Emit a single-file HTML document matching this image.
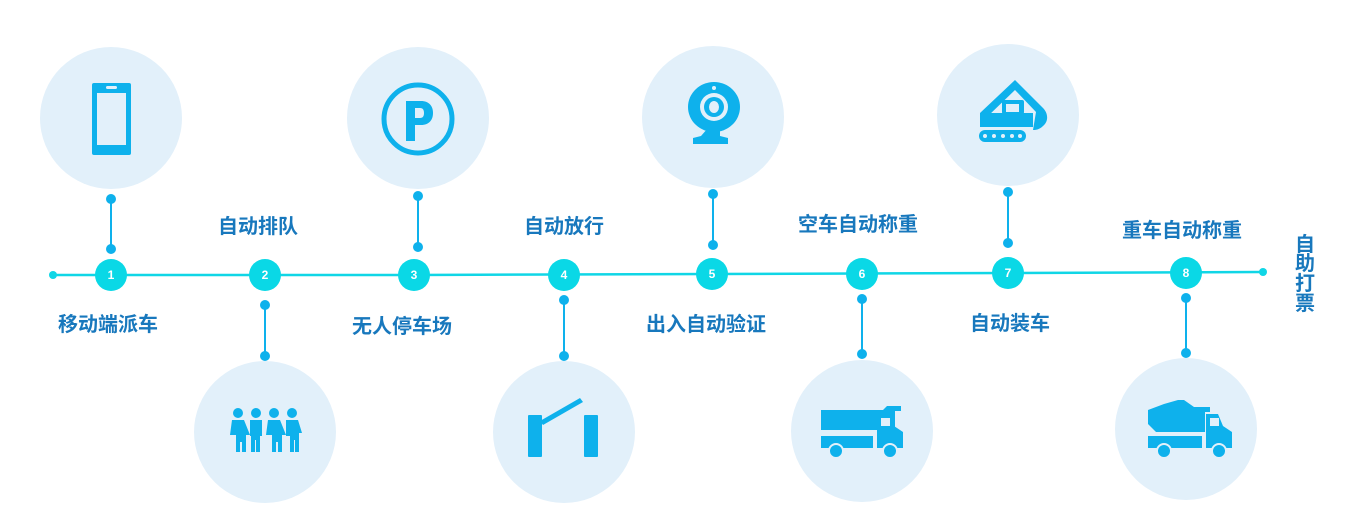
<!DOCTYPE html>
<html><head><meta charset="utf-8"><style>
html,body{margin:0;padding:0;background:#fff;width:1350px;height:530px;overflow:hidden}
svg{display:block}
text{font-family:"Liberation Sans","Noto Sans CJK SC",sans-serif;font-weight:bold}
.l{fill:#1878bd;font-size:20px;text-anchor:middle}
.n{fill:#fff;font-size:12px;text-anchor:middle}
</style></head><body>
<svg width="1350" height="530" viewBox="0 0 1350 530">
<g fill="#e2f0fa">
<circle cx="111" cy="118" r="71"/><circle cx="418" cy="118" r="71"/><circle cx="713" cy="117" r="71"/><circle cx="1008" cy="115" r="71"/>
<circle cx="265" cy="432" r="71"/><circle cx="564" cy="432" r="71"/><circle cx="862" cy="431" r="71"/><circle cx="1186" cy="429" r="71"/>
</g>
<polyline points="53,275 414,275 712,274 1008,273 1263,272" fill="none" stroke="#10d6e6" stroke-width="2.5"/>
<circle cx="53" cy="275" r="4" fill="#10d6e6"/><circle cx="1263" cy="272" r="4" fill="#10d6e6"/>
<g stroke="#0eb1ec" stroke-width="2" fill="#0eb1ec">
<line x1="111" y1="199" x2="111" y2="249"/><circle cx="111" cy="199" r="4"/><circle cx="111" cy="249" r="4"/>
<line x1="418" y1="196" x2="418" y2="247"/><circle cx="418" cy="196" r="4"/><circle cx="418" cy="247" r="4"/>
<line x1="713" y1="194" x2="713" y2="245"/><circle cx="713" cy="194" r="4"/><circle cx="713" cy="245" r="4"/>
<line x1="1008" y1="192" x2="1008" y2="243"/><circle cx="1008" cy="192" r="4"/><circle cx="1008" cy="243" r="4"/>
<line x1="265" y1="305" x2="265" y2="356"/><circle cx="265" cy="305" r="4"/><circle cx="265" cy="356" r="4"/>
<line x1="564" y1="300" x2="564" y2="356"/><circle cx="564" cy="300" r="4"/><circle cx="564" cy="356" r="4"/>
<line x1="862" y1="299" x2="862" y2="354"/><circle cx="862" cy="299" r="4"/><circle cx="862" cy="354" r="4"/>
<line x1="1186" y1="298" x2="1186" y2="353"/><circle cx="1186" cy="298" r="4"/><circle cx="1186" cy="353" r="4"/>
</g>
<g fill="#0ad8e6">
<circle cx="111" cy="275" r="16"/><circle cx="265" cy="275" r="16"/><circle cx="414" cy="275" r="16"/><circle cx="564" cy="275" r="16"/>
<circle cx="712" cy="274" r="16"/><circle cx="862" cy="274" r="16"/><circle cx="1008" cy="273" r="16"/><circle cx="1186" cy="273" r="16"/>
</g>
<text class="n" x="111" y="279">1</text><text class="n" x="265" y="279">2</text><text class="n" x="414" y="279">3</text><text class="n" x="564" y="279">4</text>
<text class="n" x="712" y="278">5</text><text class="n" x="862" y="278">6</text><text class="n" x="1008" y="277">7</text><text class="n" x="1186" y="277">8</text>
<text class="l" x="258" y="233">自动排队</text>
<text class="l" x="108" y="331">移动端派车</text>
<text class="l" x="402" y="333">无人停车场</text>
<text class="l" x="564" y="233">自动放行</text>
<text class="l" x="706" y="331">出入自动验证</text>
<text class="l" x="858" y="231">空车自动称重</text>
<text class="l" x="1010" y="330">自动装车</text>
<text class="l" x="1182" y="237">重车自动称重</text>
<text class="l" x="1305" y="251">自</text><text class="l" x="1305" y="270">助</text><text class="l" x="1305" y="290">打</text><text class="l" x="1305" y="310">票</text>
<g fill="#0eb1ec">
<rect x="92" y="83" width="39" height="72" rx="2"/><rect x="97" y="93" width="29" height="52" fill="#e2f0fa"/><rect x="106" y="86" width="11" height="3" rx="1.5" fill="#e2f0fa"/>
<circle cx="418" cy="119" r="34" fill="none" stroke="#0eb1ec" stroke-width="5"/>
<path d="M406 101h15c8 0 12 5 12 12s-4 12-12 12h-6v16h-9zM415 108v10h5c3 0 4-2 4-5s-1-5-4-5z"/>
<ellipse cx="714" cy="107" rx="26" ry="25"/><ellipse cx="714" cy="107" rx="14" ry="14" fill="#e2f0fa"/><ellipse cx="714" cy="107" rx="10" ry="10"/><ellipse cx="714" cy="107" rx="5" ry="6" fill="#e2f0fa"/><circle cx="714" cy="88" r="2" fill="#e2f0fa"/>
<path d="M708 128h12v8l8 2v6h-35v-6l8-2z"/>
<path d="M980 113l35-33 28 28c5 5 6 13 0 18-3 3-6 4-10 4l3-18-21-22-27 26v-1z"/>
<path d="M980 113h53v14h-53z"/><rect x="1002" y="100" width="22" height="14" rx="2"/><rect x="1006" y="104" width="13" height="8" fill="#e2f0fa"/>
<rect x="979" y="130" width="47" height="12" rx="6"/>
<g fill="#e2f0fa"><circle cx="985" cy="136" r="2"/><circle cx="994" cy="136" r="2"/><circle cx="1003" cy="136" r="2"/><circle cx="1012" cy="136" r="2"/><circle cx="1020" cy="136" r="2"/></g>
<circle cx="238" cy="413" r="5"/><circle cx="256" cy="413" r="5"/><circle cx="274" cy="413" r="5"/><circle cx="292" cy="413" r="5"/>
<path d="M232 420h12l6 15h-4v17h-4v-10h-2v10h-4v-17h-6z"/>
<path d="M250 420h12v16h-2v16h-4v-12h-1v12h-4v-16h-1z"/>
<path d="M268 420h12l6 15h-4v17h-4v-10h-2v10h-4v-17h-6z"/>
<path d="M286 420h12l4 13h-3v19h-4v-12h-1v12h-4v-16h-4z"/>
<rect x="528" y="415" width="14" height="42" rx="1"/><rect x="584" y="415" width="14" height="42" rx="1"/>
<path d="M540 421l40-23 3 4-40 23z"/>
<path d="M821 410h62l4-4h14v5h-6v19h-45l-29 0z"/>
<path d="M821 410h60v20h-52l-8-8z"/>
<rect x="821" y="436" width="52" height="12"/>
<path d="M877 414h13l4 12 9 6v16h-26z"/><rect x="881" y="418" width="9" height="8" fill="#e2f0fa"/>
<circle cx="836" cy="451" r="7" stroke="#e2f0fa" stroke-width="2"/><circle cx="890" cy="451" r="7" stroke="#e2f0fa" stroke-width="2"/>
<path d="M1148 410l16-6 14-4h6l10 7h16v5h-5v20h-49l-8-8z"/>
<rect x="1148" y="436" width="54" height="12"/>
<path d="M1206 414h12l5 12 9 6v16h-26z"/><rect x="1210" y="418" width="9" height="8" fill="#e2f0fa"/>
<circle cx="1164" cy="451" r="7" stroke="#e2f0fa" stroke-width="2"/><circle cx="1219" cy="451" r="7" stroke="#e2f0fa" stroke-width="2"/>
</g>
</svg>
</body></html>
